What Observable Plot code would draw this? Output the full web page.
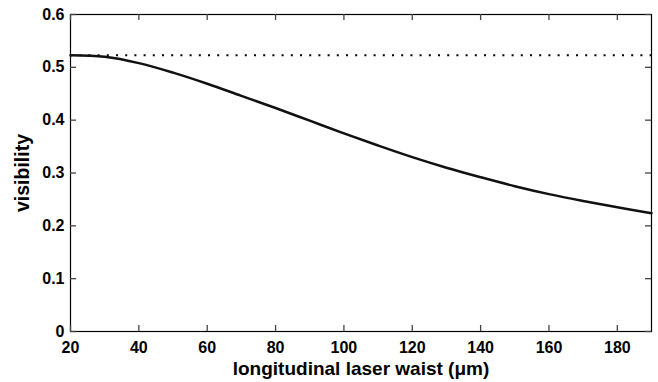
<!DOCTYPE html>
<html>
<head>
<meta charset="utf-8">
<script src="https://cdn.jsdelivr.net/npm/d3@7"></script>
<script src="https://cdn.jsdelivr.net/npm/@observablehq/plot@0.6"></script>
<style>
  html, body { margin: 0; padding: 0; background: #fff; }
  #chart { width: 658px; height: 382px; }
</style>
</head>
<body>
<div id="chart"></div>
<script>
// Data
const waist = [20, 30, 40, 50, 60, 70, 80, 90, 100, 110, 120, 130, 140, 150, 160, 170, 180, 190];
const visibility = [0.523, 0.520, 0.508, 0.490, 0.469, 0.446, 0.423, 0.399, 0.375, 0.352, 0.330, 0.310, 0.292, 0.275, 0.260, 0.247, 0.235, 0.224];
const limitValue = 0.523;
const xTicks = [20, 40, 60, 80, 100, 120, 140, 160, 180];
const yTicks = [0, 0.1, 0.2, 0.3, 0.4, 0.5, 0.6];
const xTitle = "longitudinal laser waist (\u03bcm)";
const yTitle = "visibility";

const curve = waist.map((w, i) => ({w, v: visibility[i]}));
const fmtY = d => d === 0 ? "0" : d3.format(".1f")(d);

const W = 658, H = 382, ML = 70, MR = 7, MT = 14, MB = 51;
const T = 6; // inward tick length (px)
const FW = W - ML - MR, FH = H - MT - MB;
const tickStyle = {stroke: "#444", strokeWidth: 1.3};

const chart = Plot.plot({
  width: W,
  height: H,
  marginLeft: ML,
  marginRight: MR,
  marginTop: MT,
  marginBottom: MB,
  style: {fontFamily: "'Liberation Sans', Arial, Helvetica, sans-serif", fontSize: "16px", fontWeight: "bold", color: "#000", background: "#fff"},
  x: {domain: [20, 190]},
  y: {domain: [0, 0.6]},
  marks: [
    // tick labels
    Plot.axisX(xTicks, {anchor: "bottom", tickSize: 0, tickPadding: 10, label: null, fontSize: 16, fontWeight: "bold"}),
    Plot.axisY(yTicks, {anchor: "left", tickSize: 0, tickPadding: 6, tickFormat: fmtY, label: null, fontSize: 16, fontWeight: "bold"}),
    // axis titles
    Plot.text([xTitle], {text: d => d, frameAnchor: "bottom", dy: 37, textAnchor: "middle", lineAnchor: "middle", fontSize: 19, fontWeight: "bold"}),
    Plot.text([yTitle], {text: d => d, frameAnchor: "left", dx: -48, rotate: -90, textAnchor: "middle", lineAnchor: "middle", fontSize: 19.5, fontWeight: "bold"}),
    Plot.frame({stroke: "#000", strokeWidth: 1.2}),
    // inward ticks on all four sides
    Plot.ruleX(xTicks, {x: d => d, insetTop: FH - T, ...tickStyle}),
    Plot.ruleX(xTicks, {x: d => d, insetBottom: FH - T, ...tickStyle}),
    Plot.ruleY(yTicks, {y: d => d, insetRight: FW - T, ...tickStyle}),
    Plot.ruleY(yTicks, {y: d => d, insetLeft: FW - T, ...tickStyle}),
    Plot.ruleY([limitValue], {stroke: "#000", strokeWidth: 2, strokeDasharray: "2,7.2"}),
    Plot.line(curve, {x: "w", y: "v", curve: "catmull-rom", stroke: "#111", strokeWidth: 2.5})
  ]
});
document.getElementById("chart").appendChild(chart);
</script>
</body>
</html>
